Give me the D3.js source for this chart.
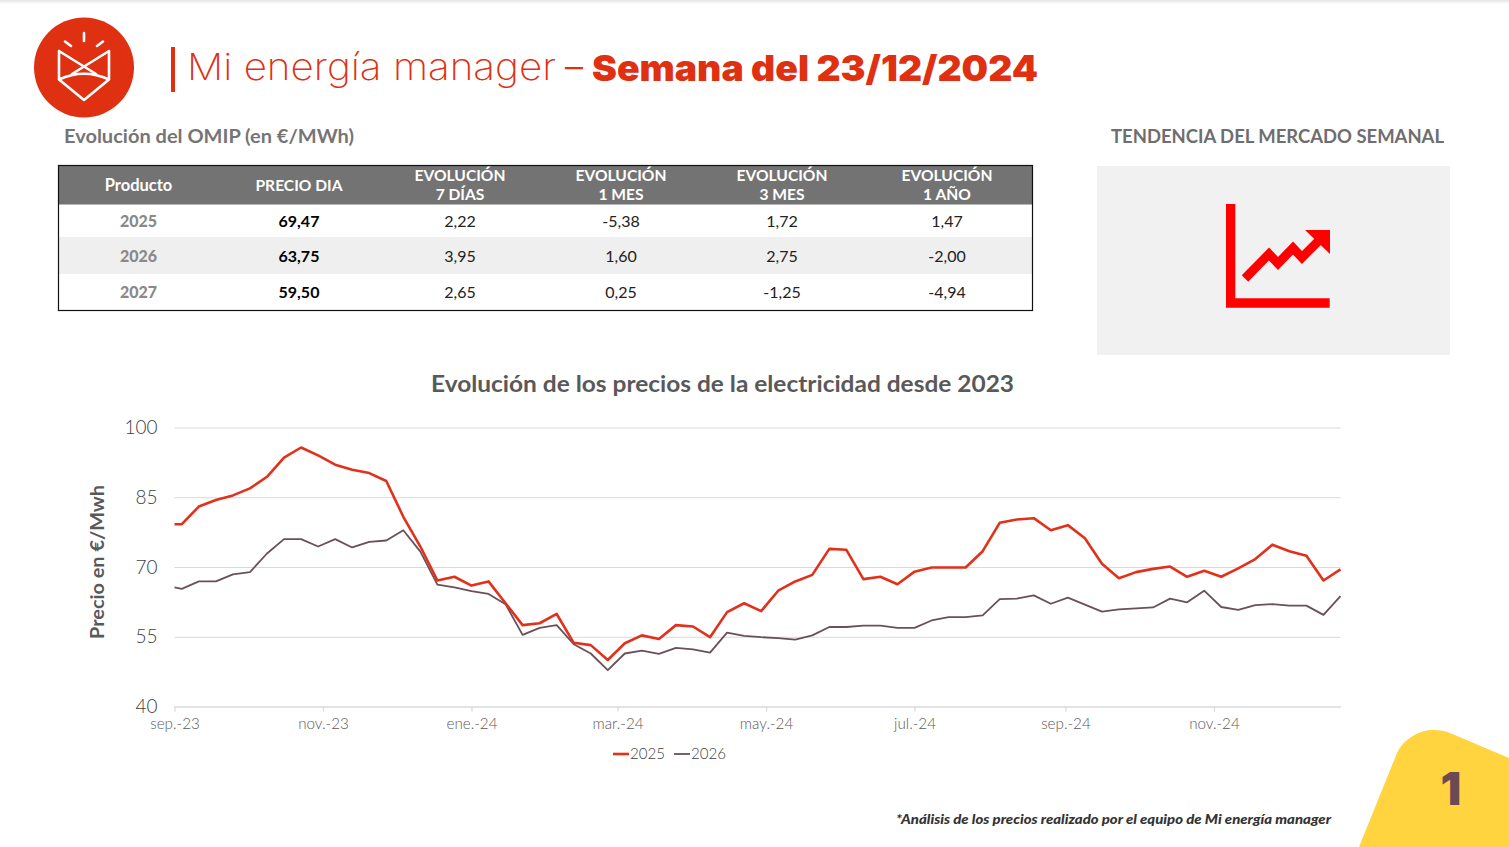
<!DOCTYPE html>
<html lang="es">
<head>
<meta charset="utf-8">
<title>Mi energía manager</title>
<script src="https://cdn.jsdelivr.net/npm/d3@7"></script>
<style>
    html, body { margin: 0; padding: 0; background: #fff; overflow: hidden; }
    svg { display: block; }
    text { font-family: Lato, "Noto Sans", sans-serif; }
    .title { font-family: Inter, Lato, sans-serif; }
</style>
</head>
<body>
<div id="chart"></div>
<script>
// serie semanal, lunes (el primer punto es el 1 de septiembre)
const dates = [
    "2023-09-01", "2023-09-04", "2023-09-11", "2023-09-18", "2023-09-25", "2023-10-02", "2023-10-09", "2023-10-16",
    "2023-10-23", "2023-10-30", "2023-11-06", "2023-11-13", "2023-11-20", "2023-11-27", "2023-12-04", "2023-12-11",
    "2023-12-18", "2023-12-25", "2024-01-01", "2024-01-08", "2024-01-15", "2024-01-22", "2024-01-29", "2024-02-05",
    "2024-02-12", "2024-02-19", "2024-02-26", "2024-03-04", "2024-03-11", "2024-03-18", "2024-03-25", "2024-04-01",
    "2024-04-08", "2024-04-15", "2024-04-22", "2024-04-29", "2024-05-06", "2024-05-13", "2024-05-20", "2024-05-27",
    "2024-06-03", "2024-06-10", "2024-06-17", "2024-06-24", "2024-07-01", "2024-07-08", "2024-07-15", "2024-07-22",
    "2024-07-29", "2024-08-05", "2024-08-12", "2024-08-19", "2024-08-26", "2024-09-02", "2024-09-09", "2024-09-16",
    "2024-09-23", "2024-09-30", "2024-10-07", "2024-10-14", "2024-10-21", "2024-10-28", "2024-11-04", "2024-11-11",
    "2024-11-18", "2024-11-25", "2024-12-02", "2024-12-09", "2024-12-16", "2024-12-23"
];
const values2025 = [
    79.2, 79.2, 83.0, 84.4, 85.4, 86.9, 89.4, 93.5, 95.7, 94.0, 92.0, 90.9, 90.2, 88.5, 80.8, 74.4,
    67.1, 67.9, 66.0, 66.9, 62.2, 57.5, 57.9, 59.9, 53.7, 53.2, 50.0, 53.6, 55.3, 54.5, 57.5, 57.2,
    54.9, 60.3, 62.2, 60.5, 64.9, 66.9, 68.3, 73.9, 73.7, 67.4, 67.9, 66.3, 69.0, 69.9, 69.9, 69.9,
    73.4, 79.5, 80.2, 80.5, 77.9, 79.0, 76.2, 70.7, 67.6, 68.9, 69.6, 70.1, 67.9, 69.2, 67.9, 69.7,
    71.7, 74.8, 73.4, 72.4, 67.1, 69.47
];
const values2026 = [
    65.6, 65.3, 66.9, 66.9, 68.4, 68.9, 72.9, 76.0, 76.0, 74.4, 76.0, 74.2, 75.4, 75.7, 77.9, 73.3,
    66.2, 65.6, 64.8, 64.2, 62.0, 55.4, 56.9, 57.5, 53.4, 51.4, 47.8, 51.4, 52.0, 51.3, 52.6, 52.3,
    51.6, 55.9, 55.2, 54.9, 54.7, 54.4, 55.3, 57.1, 57.1, 57.4, 57.4, 56.9, 56.9, 58.5, 59.2, 59.2,
    59.6, 63.1, 63.2, 63.9, 62.1, 63.4, 61.9, 60.4, 60.9, 61.1, 61.3, 63.2, 62.4, 64.9, 61.4, 60.8,
    61.8, 62.0, 61.7, 61.7, 59.7, 63.75
];
const tickDates = ["2023-09-01", "2023-11-01", "2024-01-01", "2024-03-01", "2024-05-01", "2024-07-01", "2024-09-01", "2024-11-01"];
const tickLabels = ["sep.-23", "nov.-23", "ene.-24", "mar.-24", "may.-24", "jul.-24", "sep.-24", "nov.-24"];
const yTicks = [40, 55, 70, 85, 100];

// tabla OMIP
const tableHeaders = [["Producto"], ["PRECIO DIA"], ["EVOLUCIÓN", "7 DÍAS"], ["EVOLUCIÓN", "1 MES"], ["EVOLUCIÓN", "3 MES"], ["EVOLUCIÓN", "1 AÑO"]];
const productos = ["2025", "2026", "2027"];
const precioDia = ["69,47", "63,75", "59,50"];
const evol7Dias = ["2,22", "3,95", "2,65"];
const evol1Mes = ["-5,38", "1,60", "0,25"];
const evol3Mes = ["1,72", "2,75", "-1,25"];
const evol1Ano = ["1,47", "-2,00", "-4,94"];

const RED = "#e2311a", PLUM = "#6b4f5b", ORANGE_RED = "#e03012";
const parseDate = d3.utcParse("%Y-%m-%d");

const svg = d3.select("#chart").append("svg")
    .attr("width", 1509)
    .attr("height", 847);

// sombra superior
const defs = svg.append("defs");
const topShade = defs.append("linearGradient").attr("id", "topShade")
    .attr("x1", "0%").attr("x2", "0%").attr("y1", "0%").attr("y2", "100%");
topShade.append("stop").attr("offset", "0%").attr("stop-color", "#e4e4e4");
topShade.append("stop").attr("offset", "100%").attr("stop-color", "#ffffff");
svg.append("rect").attr("width", 1509).attr("height", 4).attr("fill", "url(#topShade)");

// logo
const logo = svg.append("g");
logo.append("circle").attr("cx", 84).attr("cy", 67.5).attr("r", 50).attr("fill", ORANGE_RED);
logo.append("path")
    .attr("d", "M84 33V41M65 41.5L71 46M103 41.5L97 46M59 51V79.5L84 100L109 79.5V51L72 74M59 51L96 74M59 79.5Q84 68 109 79.5")
    .attr("fill", "none").attr("stroke", "#fff").attr("stroke-width", 2.6)
    .attr("stroke-linecap", "round").attr("stroke-linejoin", "round");

// texto estirado al ancho medido
function fitText(xPos, yPos, size, weight, color, width, label, cls) {
    return svg.append("text")
        .attr("class", cls || null)
        .attr("x", xPos).attr("y", yPos)
        .attr("font-size", size).attr("font-weight", weight).attr("fill", color)
        .attr("textLength", width).attr("lengthAdjust", "spacingAndGlyphs")
        .text(label);
}

// cabecera
svg.append("rect").attr("x", 171).attr("y", 47).attr("width", 4).attr("height", 45).attr("fill", ORANGE_RED);
fitText(187, 80, 37, 200, ORANGE_RED, 369, "Mi energía manager", "title");
fitText(565, 80, 37, 300, ORANGE_RED, 18, "–", "title");
fitText(592, 80.5, 35.5, 900, ORANGE_RED, 446, "Semana del 23/12/2024", "title");

fitText(64, 142.5, 19, 700, "#757575", 290, "Evolución del OMIP (en €/MWh)");
fitText(1111, 142.5, 18.5, 700, "#6e6e6e", 333, "TENDENCIA DEL MERCADO SEMANAL");

// tabla
const colCenters = [138.5, 299, 460, 621, 782, 947];
const rowTops = [204, 237, 274], rowBottoms = [237, 274, 310];
const rowBase = [226.5, 261.5, 298];
const table = svg.append("g");
table.append("rect").attr("x", 58.5).attr("y", 165.5).attr("width", 974).attr("height", 39).attr("fill", "#737373");
table.append("rect").attr("x", 58.5).attr("y", rowTops[1]).attr("width", 974).attr("height", rowBottoms[1] - rowTops[1]).attr("fill", "#efefef");
table.append("rect").attr("x", 58.5).attr("y", 165.5).attr("width", 974).attr("height", 145)
    .attr("fill", "none").attr("stroke", "#111").attr("stroke-width", 1.2);
tableHeaders.forEach((lines, i) => {
    lines.forEach((line, j) => {
        table.append("text")
            .attr("x", colCenters[i])
            .attr("y", lines.length === 1 ? 190.5 : 180.5 + j * 19)
            .attr("text-anchor", "middle")
            .attr("font-size", i === 0 ? 16.5 : 15.6).attr("font-weight", 700).attr("fill", "#fff")
            .text(line);
    });
});
const tableCols = [productos, precioDia, evol7Dias, evol1Mes, evol3Mes, evol1Ano];
tableCols.forEach((col, i) => {
    col.forEach((val, r) => {
        table.append("text")
            .attr("x", colCenters[i])
            .attr("y", rowBase[r])
            .attr("text-anchor", "middle")
            .attr("font-size", 16)
            .attr("font-weight", i === 0 ? 900 : i === 1 ? 700 : 400)
            .attr("fill", i === 0 ? "#8a8a8a" : i === 1 ? "#000" : "#222")
            .text(val);
    });
});

// panel tendencia
svg.append("rect").attr("x", 1097).attr("y", 166).attr("width", 353).attr("height", 189).attr("fill", "#f1f1f1");
svg.append("path").attr("d", "M1226 204H1235.3V298.3H1329.7V307.7H1226Z").attr("fill", "#f00");
svg.append("path").attr("d", "M1245 278.5L1269 254L1278 263.5L1293 248L1302 257.5L1323 236.5")
    .attr("fill", "none").attr("stroke", "#f00").attr("stroke-width", 9);
svg.append("path").attr("d", "M1305 230H1330V254Z").attr("fill", "#f00");

// grafico
fitText(431, 392, 23, 700, "#595959", 583, "Evolución de los precios de la electricidad desde 2023");

const x = d3.scaleUtc()
    .domain([parseDate(dates[0]), parseDate(dates[dates.length - 1])])
    .range([174.5, 1340.5]);
const y = d3.scaleLinear().domain([40, 100]).range([706.5, 427.5]);

const gridAxis = svg.append("g")
    .attr("transform", "translate(174.5,0)")
    .call(d3.axisLeft(y).tickValues(yTicks).tickSize(-1166).tickPadding(17));
gridAxis.select(".domain").remove();
gridAxis.selectAll("line").attr("stroke", "#d9d9d9").attr("stroke-width", 1.2);
gridAxis.selectAll("text")
    .attr("font-family", "Lato").attr("font-size", 19).attr("font-weight", 300).attr("fill", "#404040");

const xAxis = svg.append("g")
    .attr("transform", "translate(0,706.5)")
    .call(d3.axisBottom(x)
        .tickValues(tickDates.map(parseDate))
        .tickFormat((d, i) => tickLabels[i])
        .tickSize(5)
        .tickSizeOuter(0)
        .tickPadding(7));
xAxis.select(".domain").attr("stroke", "#d9d9d9").attr("stroke-width", 1.2);
xAxis.selectAll("line").attr("stroke", "#d9d9d9").attr("stroke-width", 1.2);
xAxis.selectAll("text")
    .attr("font-family", "Lato").attr("font-size", 15.2).attr("font-weight", 300).attr("fill", "#595959");

svg.append("text")
    .attr("transform", "translate(104,562) rotate(-90)")
    .attr("text-anchor", "middle")
    .attr("font-size", 18.5).attr("font-weight", 700).attr("fill", "#595959")
    .attr("textLength", 154).attr("lengthAdjust", "spacingAndGlyphs").text("Precio en €/Mwh");

const line = d3.line()
    .x((d, i) => x(parseDate(dates[i])))
    .y(d => y(d));

svg.append("path").datum(values2026)
    .attr("d", line).attr("fill", "none")
    .attr("stroke", PLUM).attr("stroke-width", 1.8).attr("stroke-linejoin", "round");
svg.append("path").datum(values2025)
    .attr("d", line).attr("fill", "none")
    .attr("stroke", RED).attr("stroke-width", 2.6).attr("stroke-linejoin", "round");

// leyenda
const legendItems = [
    { label: "2025", color: RED, width: 2.6, x0: 613 },
    { label: "2026", color: PLUM, width: 1.8, x0: 674 }
];
legendItems.forEach(item => {
    svg.append("line").attr("x1", item.x0).attr("x2", item.x0 + 16).attr("y1", 754).attr("y2", 754)
        .attr("stroke", item.color).attr("stroke-width", item.width);
    svg.append("text").attr("x", item.x0 + 17).attr("y", 759)
        .attr("font-size", 15.5).attr("font-weight", 300).attr("fill", "#404040")
        .attr("textLength", 35).attr("lengthAdjust", "spacingAndGlyphs").text(item.label);
});

// pie
fitText(896, 824, 13.5, 900, "#333", 435, "*Análisis de los precios realizado por el equipo de Mi energía manager")
    .attr("font-style", "italic");

svg.append("path")
    .attr("d", "M1359 847L1397 753C1404 738 1420 730 1433 730C1440 730 1446 731 1450 733L1509 758V847Z")
    .attr("fill", "#ffd43f");
svg.append("text").attr("class", "title").attr("x", 1451).attr("y", 805).attr("text-anchor", "middle")
    .attr("font-size", 46).attr("font-weight", 900).attr("fill", "#6b4a55").text("1");
</script>
</body>
</html>
